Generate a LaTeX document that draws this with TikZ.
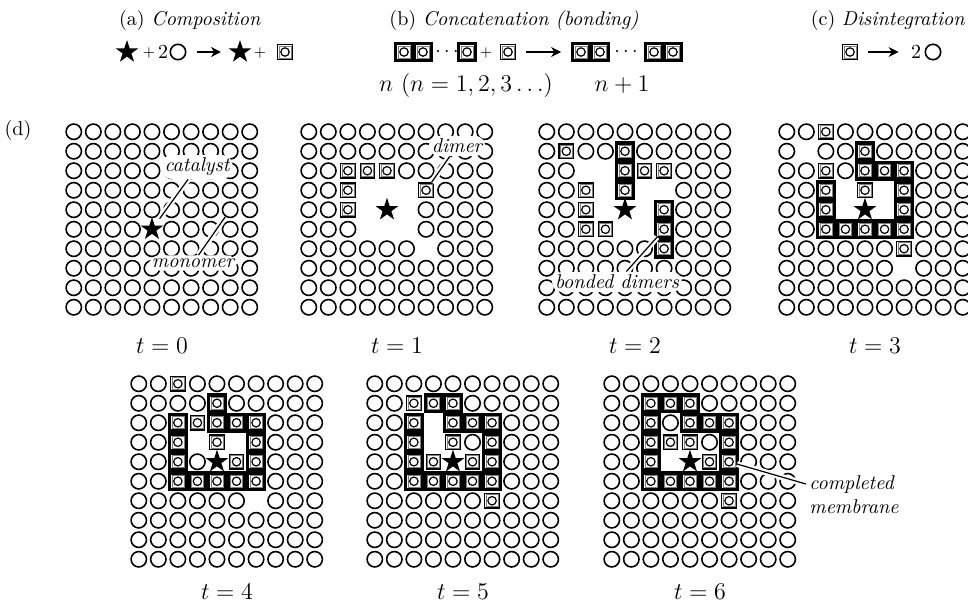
\documentclass[tikz,border=0pt]{standalone}
\usetikzlibrary{arrows.meta,shapes.geometric,backgrounds}

% one row of a lattice: o = substrate, m = monomer, s = catalyst, x = hole
\makeatletter
\newcount\cellc
\newcommand\gridrow[5]{%
  \cellc=0
  \@tfor\ch:=#5\do{%
    \advance\cellc by 1
    \pgfmathsetmacro\cx{#2+(\the\cellc-0.5)*19.55}%
    \pgfmathsetmacro\cy{#3+(#4-0.5)*19.5}%
    \edef\cname{#1-#4-\the\cellc}%
    \if\ch o\node[sub] (\cname) at (\cx,\cy) {};\fi
    \if\ch m\node[mono] (\cname) at (\cx,\cy) {};\fi
    \if\ch s\node[cat] (\cname) at (\cx,\cy) {};\fi
    \if\ch x\coordinate (\cname) at (\cx,\cy);\fi}}
\makeatother
\newcommand\panel[4]{%
  \foreach \cells [count=\r] in {#4}{%
    \edef\next{\noexpand\gridrow{#1}{#2}{#3}{\r}{\cells}}\next}}
\newcommand\bond[2]{%
  \fill ([shift={(-2,-2)}]#1.north west) rectangle ([shift={(2,2)}]#2.south east);}

\begin{document}
\begin{tikzpicture}[
    x=0.5pt, y=-0.5pt,
    sub/.style={circle, draw, line width=0.8pt, minimum size=7.7pt, inner sep=0pt},
    mono/.style={rectangle, draw, fill=white, line width=0.6pt, minimum size=7.3pt, inner sep=0pt,
      path picture={\draw[gray, line width=0.35pt] ([shift={(1.3,1.3)}]path picture bounding box.north west)
        rectangle ([shift={(-1.3,-1.3)}]path picture bounding box.south east);
        \draw[line width=0.6pt] (path picture bounding box.center) circle[radius=2.1pt];}},
    cat/.style={star, star points=5, star point ratio=2.6, fill=black, minimum size=12pt, inner sep=0pt},
    lbl/.style={fill=white, rounded corners=5pt, inner sep=1.5pt, font=\itshape},
    lead/.style={preaction={draw=white, line width=3pt}, line width=0.6pt},
    arr/.style={-{Stealth[length=5pt,width=5pt]}, line width=0.8pt, shorten <=5pt, shorten >=6pt},
    plus/.style={font=\scriptsize, inner sep=0pt},
    tlab/.style={font=\large}
  ]
  \useasboundingbox (0,0) rectangle (968,606);

  % reactions
  \node (ta) at (190,20) {(a) \textit{Composition}};
  \node[cat] (a1) at (127,52) {};
  \node[plus] (a2) at (149,53) {+};
  \node[inner sep=0pt] (a3) at (163,52) {2};
  \node[sub] (a4) at (178,52) {};
  \node[cat] (a5) at (240,52) {};
  \node[plus] (a6) at (260,53) {+};
  \node[mono] (a7) at (285,52) {};
  \draw[arr] (a4) -- (a5);

  \node (tb) at (514,20) {(b) \textit{Concatenation (bonding)}};
  \node[mono] (bl1) at (404,52) {};
  \node[mono] (bl2) at (423,52) {};
  \node[inner sep=0pt] (bl3) at (447,52) {$\cdots$};
  \node[mono] (bl4) at (467,52) {};
  \node[plus] (b1) at (486,53) {+};
  \node[mono] (b2) at (508,52) {};
  \node[mono] (br1) at (581,52) {};
  \node[mono] (br2) at (600,52) {};
  \node[inner sep=0pt] (br3) at (626,52) {$\cdots$};
  \node[mono] (br4) at (654,52) {};
  \node[mono] (br5) at (673,52) {};
  \draw[arr] (b2) -- (br1);
  \node[font=\large] (nl) at (466,85) {$n$ $(n=1,2,3\ldots)$};
  \node[font=\large] (nr) at (622,85) {$n+1$};

  \node (tc) at (888,20) {(c) \textit{Disintegration}};
  \node[mono] (c1) at (850,52) {};
  \node[inner sep=0pt] (c2) at (916,52) {2};
  \node[sub] (c3) at (933,52) {};
  \draw[arr] (c1) -- (c2);

  % lattices
  \node (dl) at (18,130) {(d)};
  \panel{g0}{64}{122}{oooooooooo,oooooooooo,oooooooooo,oooooooooo,oooooooooo,%
    oooosooooo,oooooooooo,oooooooooo,oooooooooo,oooooooooo}
  \panel{g1}{299}{122}{oooooooooo,oooooooooo,oommmooooo,oomxxxmooo,oomxsxoooo,%
    oooxxxoooo,ooooooxooo,oooooooooo,oooooooooo,oooooooooo}
  \panel{g2}{537}{122}{oooooooooo,omoomooooo,ooxxmmmooo,oomxmxxooo,oomxsxmooo,%
    oommxxmooo,oooooomooo,oooooooooo,oooooooooo,oooooooooo}
  \panel{g3}{777}{122}{oomooooooo,oxoomooooo,oomommmooo,oomxmxmooo,oomxsxmooo,%
    oommmmmooo,oooooomooo,ooooooxooo,oooooooooo,oooooooooo}
  \panel{g4}{129}{374}{oomooooooo,oooomooooo,oommmmmooo,oomxmxmooo,oomosmmooo,%
    oommmmmooo,ooooooxooo,oooooooooo,oooooooooo,oooooooooo}
  \panel{g5}{365}{374}{oooooooooo,oommmooooo,oomxmmmooo,oomxmomooo,oommsmmooo,%
    oommmmmooo,oooooomooo,oooooooooo,oooooooooo,oooooooooo}
  \panel{g6}{602}{374}{oooooooooo,oommmooooo,oomommmooo,oommmomooo,oomxsmmooo,%
    oommmmmooo,oooooomooo,oooooooooo,oooooooooo,oooooooooo}

  \begin{scope}[on background layer]
    \bond{bl1}{bl2} \bond{bl4}{bl4} \bond{br1}{br2} \bond{br4}{br5}
    \bond{g2-2-5}{g2-4-5} \bond{g2-5-7}{g2-7-7}
    \bond{g3-2-5}{g3-3-5} \bond{g3-3-5}{g3-3-6} \bond{g3-3-7}{g3-4-7}
    \bond{g3-4-3}{g3-5-3} \bond{g3-6-3}{g3-6-7} \bond{g3-5-7}{g3-6-7}
    \bond{g4-2-5}{g4-3-5} \bond{g4-3-5}{g4-3-7} \bond{g4-3-3}{g4-6-3} \bond{g4-6-3}{g4-6-7}
    \bond{g4-3-7}{g4-6-7}
    \bond{g5-2-4}{g5-2-5} \bond{g5-2-5}{g5-3-5} \bond{g5-3-5}{g5-3-7} \bond{g5-3-3}{g5-6-3}
    \bond{g5-6-3}{g5-6-7} \bond{g5-3-7}{g5-6-7}
    \bond{g6-2-3}{g6-2-5} \bond{g6-2-5}{g6-3-5} \bond{g6-3-5}{g6-3-7} \bond{g6-2-3}{g6-6-3}
    \bond{g6-6-3}{g6-6-7} \bond{g6-3-7}{g6-6-7}
  \end{scope}

  \node[tlab] (t0) at (162,346) {$t=0$};
  \node[tlab] (t1) at (397,346) {$t=1$};
  \node[tlab] (t2) at (635,346) {$t=2$};
  \node[tlab] (t3) at (875,346) {$t=3$};
  \node[tlab] (t4) at (227,592) {$t=4$};
  \node[tlab] (t5) at (463,592) {$t=5$};
  \node[tlab] (t6) at (700,592) {$t=6$};

  % callouts
  \node[lbl] (catl) at (197,167) {catalyst};
  \node[lbl] (monl) at (193,263) {monomer};
  \node[lbl] (diml) at (457,146) {dimer};
  \node[lbl] (bndl) at (617,282) {bonded dimers};
  \node[lbl, align=left, anchor=west] (meml) at (806,495) {completed\\membrane};
  \draw[lead, shorten >=4pt] (catl) -- (g0-6-5);
  \draw[lead] (monl) -- (g0-5-9);
  \draw[lead] (diml) -- (g1-4-7);
  \draw[lead] (bndl) -- (g2-6-7);
  \draw[lead] (g6-5-7) -- ([yshift=5.5pt]meml.west);
\end{tikzpicture}
\end{document}
